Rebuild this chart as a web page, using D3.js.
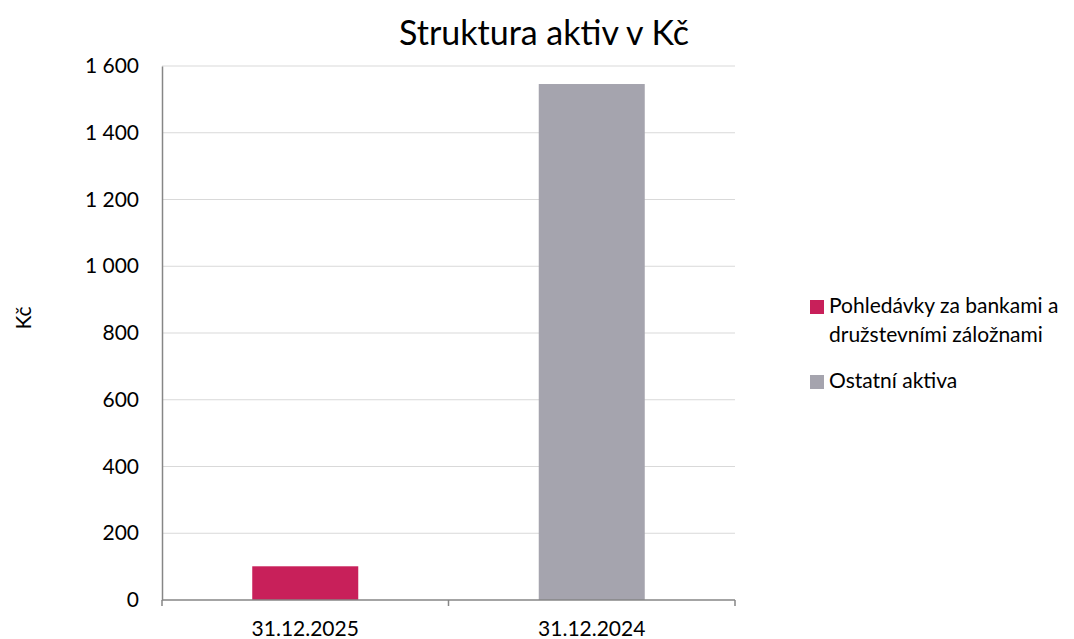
<!DOCTYPE html>
<html>
<head>
<meta charset="utf-8">
<script src="https://cdn.jsdelivr.net/npm/d3@7"></script>
<style>
  body { margin: 0; background: #fff; }
  text { font-family: Lato, "Open Sans", sans-serif; fill: #000; }
</style>
</head>
<body>
<svg id="chart" width="1074" height="639"></svg>
<script>
  /***** Data *****/
  var categories = ["31.12.2025", "31.12.2024"];
  var seriesNames = ["Pohledávky za bankami a družstevními záložnami", "Ostatní aktiva"];
  var seriesColors = ["#c8205a", "#a5a4ae"];
  // one value per category, each category belongs to one series
  var values = [101, 1546];
  var valueSeries = [0, 1];
  var yTicks = [0, 200, 400, 600, 800, 1000, 1200, 1400, 1600];

  /***** Configuration *****/
  var margin = {top: 66, right: 339, bottom: 39, left: 162};
  var width = 1074 - margin.left - margin.right;
  var height = 639 - margin.top - margin.bottom;
  var fontSize = "21px";

  var svg = d3.select("#chart");
  var g = svg.append("g")
    .attr("transform", "translate(" + margin.left + "," + margin.top + ")");

  /***** Scales *****/
  var x = d3.scaleBand().domain(categories).range([0, width]).padding(0);
  var y = d3.scaleLinear().domain([0, 1600]).range([height, 0]);
  var barFrac = 0.37;

  // gridlines
  g.append("g").selectAll("line")
    .data(yTicks.filter(function (d) { return d > 0; }))
    .enter().append("line")
    .attr("x1", 0).attr("x2", width)
    .attr("y1", function (d) { return y(d); })
    .attr("y2", function (d) { return y(d); })
    .attr("stroke", "#d9d9d9").attr("stroke-width", 1.2);

  // bars
  g.append("g").selectAll("rect")
    .data(values)
    .enter().append("rect")
    .attr("x", function (d, i) { return x(categories[i]) + x.bandwidth() * (1 - barFrac) / 2; })
    .attr("width", x.bandwidth() * barFrac)
    .attr("y", function (d) { return y(d); })
    .attr("height", function (d) { return height - y(d); })
    .attr("fill", function (d, i) { return seriesColors[valueSeries[i]]; });

  // y axis
  var yAxis = d3.axisLeft(y).tickValues(yTicks).tickSize(0).tickPadding(23)
    .tickFormat(function (d) { return d3.format(",")(d).replace(/,/g, " "); });
  var yAxisG = g.append("g").call(yAxis);
  yAxisG.select(".domain").attr("stroke", "#868686").attr("stroke-width", 1.5);
  yAxisG.selectAll("text").style("font-size", fontSize).style("font-family", "Lato, sans-serif").attr("fill", "#000");

  // x axis, ticks at band boundaries
  var xAxisG = g.append("g").attr("transform", "translate(0," + height + ")");
  xAxisG.append("line").attr("x1", 0).attr("x2", width)
    .attr("stroke", "#868686").attr("stroke-width", 1.5);
  xAxisG.selectAll(".tk")
    .data([0].concat(categories.map(function (c) { return x(c) + x.bandwidth(); })))
    .enter().append("line")
    .attr("x1", function (d) { return d; }).attr("x2", function (d) { return d; })
    .attr("y1", 0).attr("y2", 6)
    .attr("stroke", "#868686").attr("stroke-width", 1.5);
  xAxisG.selectAll(".lbl")
    .data(categories)
    .enter().append("text")
    .attr("x", function (d) { return x(d) + x.bandwidth() / 2; })
    .attr("y", 36)
    .attr("text-anchor", "middle")
    .style("font-size", fontSize)
    .text(function (d) { return d; });

  // title
  svg.append("text")
    .attr("x", 544).attr("y", 45)
    .attr("text-anchor", "middle")
    .style("font-size", "34px")
    .text("Struktura aktiv v Kč");

  // y axis title
  svg.append("text")
    .attr("transform", "translate(31,318) rotate(-90)")
    .attr("text-anchor", "middle")
    .style("font-size", fontSize)
    .text("Kč");

  /***** Legend *****/
  var legend = svg.append("g").attr("transform", "translate(810,0)");
  var legendLines = [["Pohledávky za bankami a", "družstevními záložnami"], ["Ostatní aktiva"]];
  var legendY = [300, 375];
  legendLines.forEach(function (lines, i) {
    legend.append("rect")
      .attr("x", 0).attr("y", legendY[i])
      .attr("width", 14).attr("height", 14)
      .attr("fill", seriesColors[i]);
    lines.forEach(function (t, j) {
      legend.append("text")
        .attr("x", 19).attr("y", legendY[i] + 13 + j * 29)
        .style("font-size", fontSize)
        .text(t);
    });
  });
</script>
</body>
</html>
